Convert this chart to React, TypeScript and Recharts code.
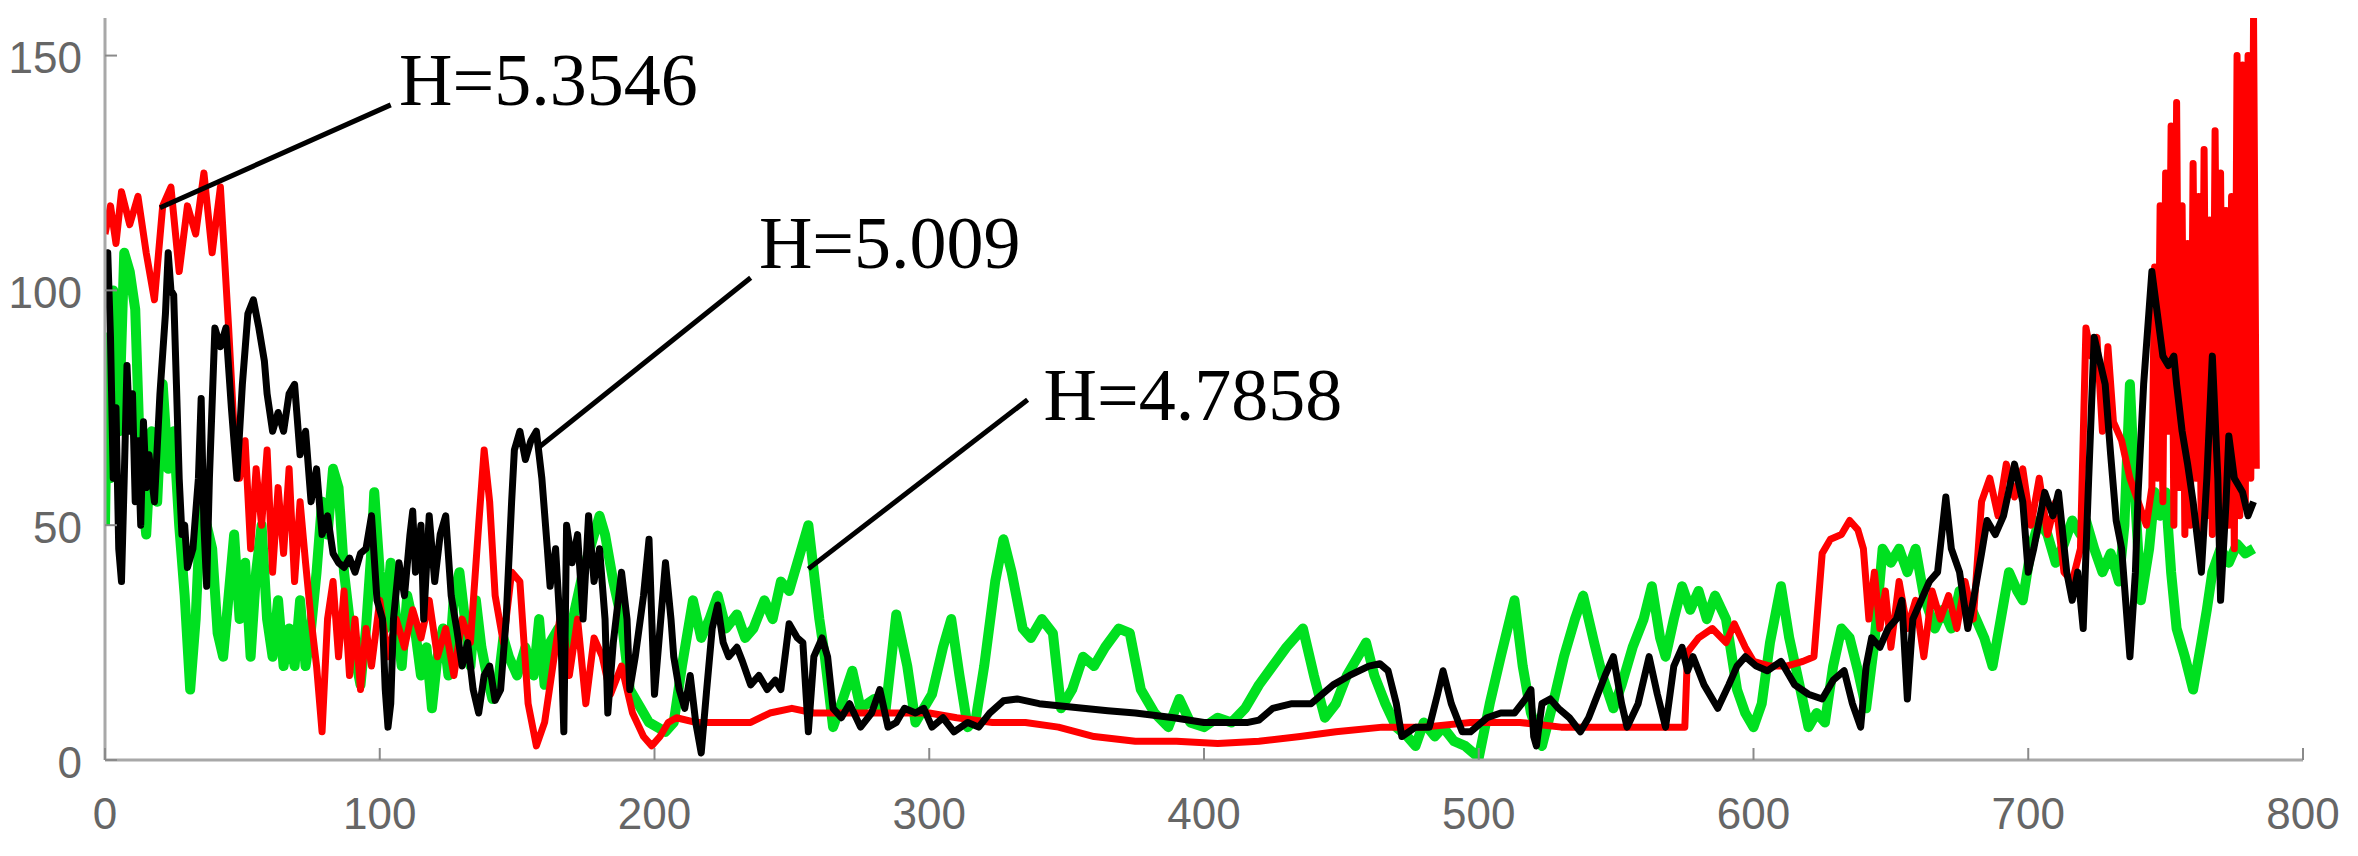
import React from "react";
import {
  LineChart,
  Line,
  XAxis,
  YAxis,
  ReferenceLine,
  ReferenceDot,
} from "recharts";

document.body.style.margin = "0";

// [x, y] samples
const red: [number, number][] = [
  [0,112],[2,118],[4,110],[6,121],[9,114],[12,120],[15,108],[18,98],[21,118],[24,122],[27,104],[30,118],[33,112],[36,125],[39,108],[42,122],[45,92],[47,70],[49,60],[51,68],[53,45],[55,62],[57,50],[59,66],[61,40],[63,58],[65,44],[67,62],[69,38],[71,55],[73,42],[75,30],[77,20],[79,6],[81,30],[83,38],[85,22],[87,36],[89,18],[91,30],[93,15],[95,28],[97,20],[100,34],[103,22],[106,30],[109,24],[112,32],[115,26],[118,34],[121,22],[124,28],[127,18],[130,30],[133,25],[136,50],[138,66],[140,55],[142,35],[145,25],[148,40],[151,38],[154,12],[157,3],[160,8],[163,20],[166,32],[169,18],[172,30],[175,12],[178,26],[181,22],[184,14],[188,20],[192,10],[196,5],[199,3],[202,5],[205,8],[208,9],[215,8],[225,8],[235,8],[242,10],[250,11],[258,10],[270,10],[285,10],[300,10],[310,9],[323,8],[335,8],[347,7],[360,5],[375,4],[390,4],[405,3.5],[420,4],[435,5],[448,6],[465,7],[480,7],[497,8],[515,8],[530,7],[545,7],[560,7],[575,7],[576,23],[580,26],[585,28],[590,25],[593,29],[597,24],[600,21],[606,20],[612,20],[618,21],[622,22],[625,44],[628,47],[632,48],[635,51],[638,49],[640,45],[642,30],[644,40],[646,28],[648,36],[650,24],[653,38],[656,28],[659,34],[662,22],[665,36],[668,30],[671,35],[674,28],[677,38],[680,30],[683,55],[686,60],[689,52],[692,63],[695,56],[698,62],[701,50],[704,60],[707,48],[710,55],[713,40],[716,38],[719,45],[721,92],[723,86],[725,90],[727,70],[729,88],[731,72],[734,68],[737,60],[740,55],[743,50],[745,58],[746,105],[747,60],[748,118],[749,55],[750,125],[751,70],[752,135],[753,50],[754,140],[755,58],[756,118],[757,48],[758,110],[759,50],[760,127],[761,60],[762,120],[763,45],[764,130],[765,52],[766,115],[767,48],[768,134],[769,58],[770,125],[771,46],[772,117],[773,50],[774,120],[775,45],[776,150],[777,52],[778,148],[779,55],[780,150],[781,60],[782,158],[783,62],
];

const green: [number, number][] = [
  [0,50],[1,90],[2,60],[3,100],[5,70],[7,108],[9,104],[11,96],[13,60],[15,48],[17,70],[19,55],[21,80],[23,62],[25,70],[27,50],[29,35],[31,15],[33,30],[35,56],[37,50],[39,45],[41,27],[43,22],[45,35],[47,48],[49,30],[51,42],[53,22],[55,40],[57,50],[59,30],[61,22],[63,34],[65,20],[67,28],[69,20],[71,34],[73,20],[75,28],[77,40],[79,55],[81,48],[83,62],[85,58],[87,40],[89,30],[91,22],[93,16],[95,28],[97,45],[98,57],[100,40],[102,28],[104,42],[106,30],[108,20],[110,35],[113,27],[115,18],[117,24],[119,11],[121,22],[123,28],[125,18],[127,35],[129,40],[131,30],[133,20],[135,34],[137,24],[139,18],[141,13],[143,16],[145,26],[147,22],[150,18],[153,24],[156,18],[158,30],[160,16],[162,25],[165,28],[168,22],[171,32],[174,40],[177,46],[180,52],[182,48],[185,38],[188,30],[191,15],[195,11],[198,8],[201,7],[204,6],[207,8],[210,20],[214,34],[217,26],[220,30],[223,35],[226,28],[230,31],[233,26],[236,28],[240,34],[243,30],[246,38],[249,36],[253,44],[256,50],[258,40],[260,30],[262,22],[265,7],[268,12],[272,19],[275,11],[280,13],[284,10],[288,31],[292,20],[295,8],[298,11],[301,14],[305,24],[308,30],[311,18],[314,7],[317,9],[320,20],[324,38],[327,47],[330,40],[334,28],[337,26],[341,30],[345,27],[348,11],[352,15],[356,22],[360,20],[364,24],[369,28],[373,27],[377,15],[382,10],[387,7],[391,13],[395,8],[400,7],[405,9],[410,8],[415,11],[420,16],[425,20],[430,24],[436,28],[440,18],[444,9],[448,12],[452,18],[456,22],[459,25],[462,18],[466,12],[470,7],[474,5],[477,3],[480,8],[484,5],[487,7],[491,4],[495,3],[500,0.5],[504,12],[508,22],[513,34],[516,20],[519,10],[523,3],[527,12],[531,22],[535,30],[538,35],[542,25],[545,18],[549,11],[552,16],[556,24],[560,30],[563,37],[566,26],[568,22],[571,30],[574,37],[577,32],[580,36],[583,30],[586,35],[590,30],[594,15],[597,10],[600,7],[603,12],[606,25],[610,37],[613,26],[616,18],[620,7],[623,10],[626,8],[629,20],[632,28],[635,26],[638,19],[641,11],[644,25],[647,45],[650,42],[653,45],[656,40],[659,45],[662,35],[666,28],[669,32],[672,28],[675,36],[678,34],[681,30],[684,26],[687,20],[690,30],[693,40],[696,36],[698,34],[701,45],[704,51],[707,48],[710,42],[713,46],[716,51],[719,48],[721,51],[724,45],[727,40],[730,44],[733,38],[735,50],[737,80],[739,55],[741,34],[744,45],[746,57],[748,52],[750,57],[752,40],[754,28],[757,22],[760,15],[763,25],[765,32],[767,40],[770,45],[773,42],[776,46],[779,44],[782,45],
];

const black: [number, number][] = [
  [0,105],[1,108],[2,90],[3,60],[4,75],[5,45],[6,38],[7,60],[8,84],[9,70],[10,78],[11,55],[12,68],[13,50],[14,72],[15,58],[16,65],[18,55],[20,78],[22,95],[23,108],[24,100],[25,99],[26,80],[27,60],[28,48],[29,50],[30,41],[32,45],[34,60],[35,77],[36,50],[37,37],[38,60],[40,92],[42,88],[44,92],[46,75],[48,60],[50,80],[52,95],[54,98],[56,92],[58,85],[59,78],[61,70],[63,74],[65,70],[67,78],[69,80],[71,65],[73,70],[75,55],[77,62],[79,48],[81,52],[83,44],[85,42],[87,41],[89,43],[91,40],[93,44],[95,45],[97,52],[99,34],[101,30],[102,15],[103,7],[104,12],[105,30],[107,42],[109,35],[111,48],[112,53],[113,40],[115,50],[116,30],[118,52],[120,38],[122,48],[124,52],[126,35],[128,28],[130,20],[132,25],[134,15],[136,10],[138,18],[140,20],[142,12.7],[144,15],[146,30],[148,55],[149,66],[151,70],[153,64],[155,68],[157,70],[159,60],[161,45],[162,37],[164,45],[166,25],[167,6],[168,50],[170,42],[172,48],[174,30],[176,52],[178,38],[180,45],[182,30],[183,10],[185,25],[188,40],[190,30],[191,15],[193,22],[196,35],[198,47],[199,30],[200,14],[202,28],[204,42],[206,30],[207,22],[209,15],[211,11],[213,18],[215,8],[217,1.5],[219,15],[221,28],[223,33],[225,25],[227,22],[230,24],[232,21],[235,16],[238,18],[241,15],[244,17],[246,15],[249,29],[252,26],[254,25],[256,6],[258,22],[261,26],[263,22],[265,11],[268,9],[271,12],[275,7],[279,10],[282,15],[285,7],[288,8],[291,11],[295,10],[298,11],[301,7],[305,9],[309,6],[314,8],[318,7],[322,10],[327,12.6],[332,13],[340,12],[348,11.5],[356,11],[365,10.5],[375,10],[389,9],[400,8],[410,8],[416,8],[420,8.5],[425,11],[432,12],[439,12],[447,16],[453,18],[460,20],[464,20.5],[467,19],[470,12],[472,5],[477,7],[482,7],[485,14],[487,19],[490,12],[494,6],[497,6],[503,9],[508,10],[513,10],[517,13],[519,15],[520,5],[521,3],[523,12],[526,13],[529,11],[533,9],[537,6],[540,9],[542,12],[546,18],[549,22],[552,12],[554,7],[558,12],[562,22],[565,14],[568,7],[571,20],[574,24],[576,19],[578,22],[582,16],[587,11],[591,16],[594,20],[597,22],[601,20],[605,19],[610,21],[613,18],[615,16],[620,14],[625,13],[629,17],[633,19],[636,12],[639,7],[641,20],[643,26],[646,24],[649,28],[652,30],[654,34],[656,13],[658,30],[661,34],[664,38],[667,40],[670,56],[672,45],[675,40],[678,28],[680,34],[683,44],[685,51],[688,48],[691,52],[695,63],[698,55],[700,40],[702,45],[706,57],[709,52],[711,57],[714,40],[716,34],[718,40],[720,28],[722,60],[724,90],[726,85],[728,80],[730,65],[732,51],[734,45],[737,22],[739,40],[740,57],[742,80],[745,104],[747,95],[749,86],[751,84],[753,86],[754,80],[756,70],[758,63],[760,55],[763,40],[765,60],[767,86],[769,60],[770,34],[772,55],[773,69],[775,60],[778,57],[780,52],[782,55],
];

const xTicks = [0, 100, 200, 300, 400, 500, 600, 700, 800];
const yTicks = [0, 50, 100, 150];

// annotation: text anchor point + leader line [from, to]
const notes = [
  { text: "H=5.3546", tx: 107, ty: 139.5, from: [104, 139.5], to: [20, 117.6] },
  { text: "H=5.009", tx: 238, ty: 104.8, from: [235, 102.7], to: [157.7, 66.5] },
  { text: "H=4.7858", tx: 341.6, ty: 72.4, from: [335.8, 76.7], to: [256, 40.7] },
];

const toRows = (pts: [number, number][]) => pts.map(([x, y]) => ({ x, y }));

const tickFont = "'Liberation Sans', Arial, sans-serif";

function XTick({ x, y, payload }: any) {
  return (
    <g>
      <line x1={x} x2={x} y1={y} y2={y - 12} stroke="#8a8a8a" strokeWidth={2} />
      <text x={x} y={y + 53} textAnchor="middle" dominantBaseline="central" fontSize={44} fill="#666" fontFamily={tickFont}>
        {payload.value}
      </text>
    </g>
  );
}

function YTick({ x, y, payload }: any) {
  return (
    <g>
      <line x1={x} x2={x + 12} y1={y} y2={y} stroke="#8a8a8a" strokeWidth={2} />
      <text x={x - 23} y={y + 2} textAnchor="end" dominantBaseline="central" fontSize={44} fill="#666" fontFamily={tickFont}>
        {payload.value}
      </text>
    </g>
  );
}

function NoteText({ viewBox, value }: any) {
  return (
    <text x={viewBox.x} y={viewBox.y} fontSize={74} fill="#000" fontFamily="'Liberation Serif', 'Times New Roman', serif">
      {value}
    </text>
  );
}

export default function App() {
  return (
    <div style={{ width: 2358, height: 856, background: "#fff" }}>
      <LineChart width={2358} height={856} margin={{ top: 18, right: 55, bottom: 0, left: 0 }}>
        <XAxis
          dataKey="x"
          type="number"
          domain={[0, 800]}
          ticks={xTicks}
          height={96}
          tickSize={0}
          tickMargin={0}
          tick={<XTick />}
          axisLine={{ stroke: "#a8a8a8", strokeWidth: 3 }}
          allowDataOverflow
        />
        <YAxis
          type="number"
          domain={[0, 158]}
          ticks={yTicks}
          width={105}
          tickSize={0}
          tickMargin={0}
          tick={<YTick />}
          axisLine={{ stroke: "#a8a8a8", strokeWidth: 3 }}
          allowDataOverflow
        />
        <Line data={toRows(green)} dataKey="y" type="linear" stroke="#00e020" strokeWidth={10} strokeLinejoin="round" dot={false} isAnimationActive={false} />
        <Line data={toRows(red)} dataKey="y" type="linear" stroke="#ff0000" strokeWidth={7} strokeLinejoin="round" dot={false} isAnimationActive={false} />
        <Line data={toRows(black)} dataKey="y" type="linear" stroke="#000000" strokeWidth={7} strokeLinejoin="round" dot={false} isAnimationActive={false} />
        {notes.map(n => (
          <ReferenceLine
            key={n.text + "-line"}
            segment={[{ x: n.from[0], y: n.from[1] }, { x: n.to[0], y: n.to[1] }]}
            stroke="#000"
            strokeWidth={5}
            ifOverflow="visible"
          />
        ))}
        {notes.map(n => (
          <ReferenceDot
            key={n.text}
            x={n.tx}
            y={n.ty}
            r={0}
            fill="none"
            stroke="none"
            ifOverflow="visible"
            label={<NoteText value={n.text} />}
          />
        ))}
      </LineChart>
    </div>
  );
}
